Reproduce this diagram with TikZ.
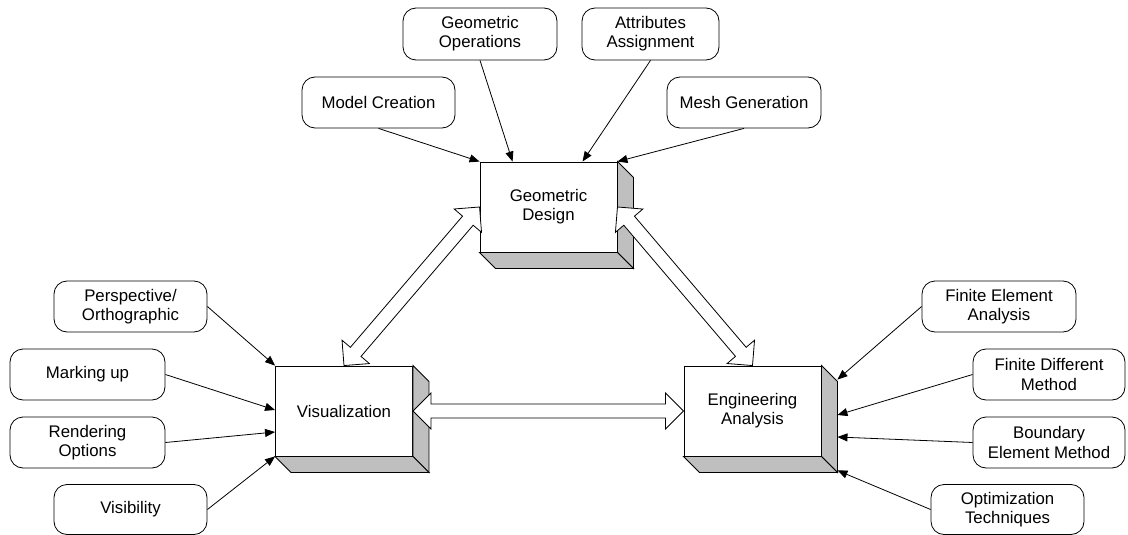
\documentclass[tikz,border=0pt]{standalone}
\usepackage{fontspec}
\setmainfont{Liberation Sans}
\usetikzlibrary{calc,arrows.meta}

% hollow double-headed block arrow between two points
\newcommand\hollowarrow[2]{%
  \draw[blockarrow] (#1)
    -- ($(#1)!18pt!(#2)!18pt!90:(#2)$)
    -- ($(#1)!18pt!(#2)!7pt!90:(#2)$)
    -- ($(#2)!18pt!(#1)!7pt!-90:(#1)$)
    -- ($(#2)!18pt!(#1)!18pt!-90:(#1)$)
    -- (#2)
    -- ($(#2)!18pt!(#1)!18pt!90:(#1)$)
    -- ($(#2)!18pt!(#1)!7pt!90:(#1)$)
    -- ($(#1)!18pt!(#2)!7pt!-90:(#2)$)
    -- ($(#1)!18pt!(#2)!18pt!-90:(#2)$)
    -- cycle;}

\begin{document}
\begin{tikzpicture}[x=1pt,y=-1pt,
  labelfont/.style={font=\fontsize{16.8}{19.3}\selectfont},
  topic/.style={draw, rounded corners=13pt, line width=0.8pt, align=center,
    labelfont, inner sep=0pt, minimum height=51pt},
  stage/.style={draw, fill=white, line width=0.9pt, align=center, labelfont,
    inner sep=0pt, minimum width=137pt, minimum height=90pt},
  face/.style={draw, fill=black!25, line width=0.9pt, line join=miter},
  feed/.style={-{Triangle[length=10pt,width=8pt]}, line width=0.8pt},
  blockarrow/.style={draw, fill=white, line width=0.8pt, line join=miter}]
\useasboundingbox (0,0) rectangle (1128,535);

% main stages
\node[stage] (gd)  at (548.5,207) {Geometric\\Design};
\node[stage] (vis) at (344,411)   {Visualization};
\node[stage] (ea)  at (752.5,411) {Engineering\\Analysis};

% extruded side and bottom faces
\foreach \b in {gd,vis,ea} {
  \draw[face] (\b.north east) -- ++(16,16) -- ($(\b.south east)+(16,16)$)
    -- (\b.south east) -- cycle;
  \draw[face] (\b.south west) -- ++(16,16) -- ($(\b.south east)+(16,16)$)
    -- (\b.south east) -- cycle;
}

% geometric design inputs
\node[topic, minimum width=153pt] (model) at (378.5,102.5) {Model Creation};
\node[topic, minimum width=154pt, minimum height=52pt] (geoop) at (480,34) {Geometric\\Operations};
\node[topic, minimum width=137pt, minimum height=52pt] (attr) at (650.5,34) {Attributes\\Assignment};
\node[topic, minimum width=154pt] (mesh) at (744,102.5) {Mesh Generation};

% visualization inputs
\node[topic, minimum width=153pt] (persp) at (130.5,306.5) {Perspective/\\Orthographic};
\node[topic, minimum width=155pt] (mark)  at (87.5,374.5)  {Marking up};
\node[topic, minimum width=155pt] (rend)  at (87.5,442.5)  {Rendering\\Options};
\node[topic, minimum width=153pt, minimum height=50pt] (visib) at (130.5,509.5) {Visibility};

% analysis inputs
\node[topic, minimum width=154pt] (fea) at (999,306.5)  {Finite Element\\Analysis};
\node[topic, minimum width=152pt] (fdm) at (1049,374.5) {Finite Different\\Method};
\node[topic, minimum width=152pt] (bem) at (1049,442.5) {Boundary\\Element Method};
\node[topic, minimum width=153pt, minimum height=50pt] (opt) at (1007.5,509.5) {Optimization\\Techniques};

% connector end points on the stages
\coordinate (gd-op)   at ($(gd.north west)+(33,0)$);
\coordinate (gd-at)   at ($(gd.north west)+(103,0)$);
\coordinate (vis-mk)  at ($(vis.west)+(0,-1)$);
\coordinate (vis-rd)  at ($(vis.west)+(0,21)$);
\coordinate (ea-fe)   at ($(ea.north east)+(16,14)$);
\coordinate (ea-fd)   at ($(ea.east)+(16,4)$);
\coordinate (ea-be)   at ($(ea.east)+(16,26)$);
\coordinate (ea-ot)   at ($(ea.south east)+(16,14)$);

\draw[feed] (model.south) -- (gd.north west);
\draw[feed] (geoop.south) -- (gd-op);
\draw[feed] (attr.south)  -- (gd-at);
\draw[feed] (mesh.south)  -- (gd.north east);

\draw[feed] (persp.east) -- (vis.north west);
\draw[feed] (mark.east)  -- (vis-mk);
\draw[feed] (rend.east)  -- (vis-rd);
\draw[feed] (visib.east) -- (vis.south west);

\draw[feed] (fea.west) -- (ea-fe);
\draw[feed] (fdm.west) -- (ea-fd);
\draw[feed] (bem.west) -- (ea-be);
\draw[feed] (opt.west) -- (ea-ot);

% two-way links between the stages
\hollowarrow{vis.north}{gd.west}
\hollowarrow{ea.north}{gd.east}
\hollowarrow{vis.east}{ea.west}
\end{tikzpicture}
\end{document}
